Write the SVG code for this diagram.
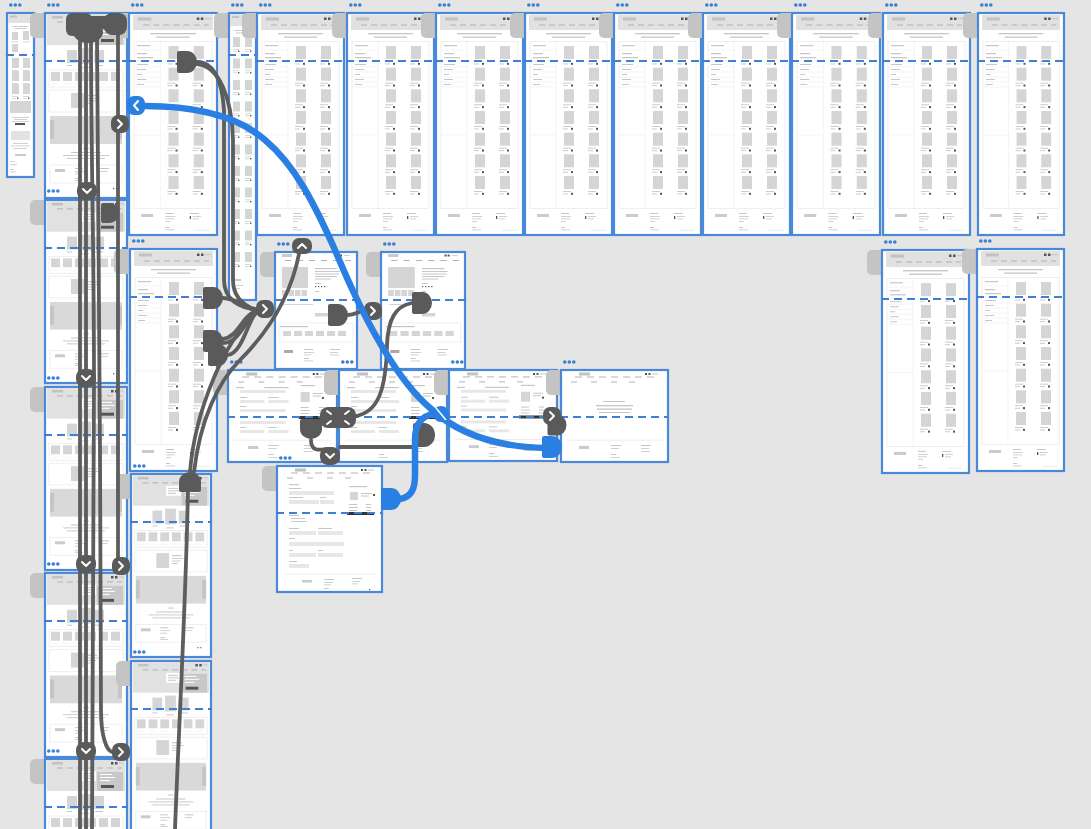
<svg xmlns="http://www.w3.org/2000/svg" xmlns:xlink="http://www.w3.org/1999/xlink" width="1091" height="829" viewBox="0 0 1091 829">
<style>
.bg{fill:#e5e5e5}
.pg{fill:#fff;stroke:#4a88d8;stroke-width:2.2}
.tab{fill:#c4c4c4}
.fold{stroke:#3f80d2;stroke-width:2;stroke-dasharray:8 5}
.hd{fill:#e1e1e1}
.lg{fill:#c2c2c2}
.ph{fill:#d5d5d5}
.ph2{fill:#cbcbcb}
.tx{fill:#c6c6c6}
.dk{fill:#555}
.in{fill:#e7e7e7}
.box{fill:none;stroke:#e8e8e8;stroke-width:.7}
.sep{fill:none;stroke:#ececec;stroke-width:.6}
.nav{fill:none;stroke:#b2b2b2;stroke-width:1}
.dot{fill:#3a7fd5}
.wire{fill:none;stroke:#5d5d5d;stroke-width:3.8;stroke-linecap:round}
.knob{fill:#5a5a5a}
.blue{fill:none;stroke:#2a7fe2;stroke-width:6.5;stroke-linecap:round}
.bk{fill:#2a7fe2}
.chev{fill:none;stroke:#fff;stroke-width:2;stroke-linecap:round;stroke-linejoin:round}
</style>
<defs>
<g id="dots" class="dot"><circle cx="1.8" cy="0" r="1.8"/><circle cx="6.3" cy="0" r="1.8"/><circle cx="10.8" cy="0" r="1.8"/></g>
<g id="cell"><rect class="ph" x="1" y="0" width="10" height="13"/><rect class="tx" x="0" y="15" width="8" height="0.9"/><rect class="tx" x="0" y="17.5" width="5" height="0.9"/><rect class="dk" x="8" y="16.8" width="2" height="2"/></g>
<g id="mcell"><rect class="ph" x="0" y="0" width="7" height="10"/><rect class="tx" x="0" y="12" width="6" height="0.7"/><rect class="tx" x="0" y="14" width="4" height="0.7"/><rect class="dk" x="5" y="13.5" width="1.4" height="1.4"/></g>
<g id="hdr">
<rect class="lg" x="18" y="2.5" width="11" height="3"/>
<rect class="dk" x="84" y="3" width="2" height="2"/><rect class="dk" x="87.5" y="3" width="2" height="2"/><rect class="tx" x="91" y="3.5" width="6" height="1"/>
<path class="nav" d="M14,7h7M26,7h7M38,7h7M50,7h7M62,7h7M74,7h7M86,7h7"/>
<path class="nav" d="M10,12h6M30,12h6M50,12h6M68,12h6"/>
</g>
<symbol id="catalog" viewBox="0 0 87 222" preserveAspectRatio="none">
<rect class="hd" x="4" y="2" width="79" height="15"/>
<rect class="lg" x="9" y="4.5" width="13" height="3"/>
<rect class="dk" x="67" y="4.5" width="2.5" height="2.5"/><rect class="dk" x="71" y="4.5" width="2.5" height="2.5"/><rect class="tx" x="75" y="5" width="6" height="1.2"/>
<path class="nav" d="M14,12h6M24,12h6M34,12h6M44,12h6M54,12h6M64,12h6M74,12h5"/>
<rect class="tx" x="21" y="20" width="45" height="1.3"/><rect class="tx" x="27" y="23.5" width="33" height="1.3"/>
<rect class="box" x="5" y="28.5" width="77" height="167"/>
<path class="sep" d="M31,28.5V195.5M5,37h26M5,48h26M5,54h26M5,59h26M5,64h26M5,69h26M5,74h26M5,122h26"/>
<rect class="tx" x="8" y="32" width="13" height="1.2"/><rect class="tx" x="8" y="40" width="10" height="1.2"/><rect class="tx" x="8" y="44" width="16" height="1.2"/>
<rect class="tx" x="8" y="51" width="11" height="1"/><rect class="tx" x="8" y="56" width="9" height="1"/><rect class="tx" x="8" y="61" width="5" height="1"/><rect class="tx" x="8" y="66" width="9" height="1"/><rect class="tx" x="8" y="71" width="7" height="1"/>
<use href="#cell" x="38" y="33"/><use href="#cell" x="63" y="33"/>
<use href="#cell" x="38" y="54.7"/><use href="#cell" x="63" y="54.7"/>
<use href="#cell" x="38" y="76.3"/><use href="#cell" x="63" y="76.3"/>
<use href="#cell" x="38" y="98"/><use href="#cell" x="63" y="98"/>
<use href="#cell" x="38" y="119.7"/><use href="#cell" x="63" y="119.7"/>
<use href="#cell" x="38" y="141.3"/><use href="#cell" x="63" y="141.3"/>
<use href="#cell" x="38" y="163"/><use href="#cell" x="63" y="163"/>
<rect class="ph2" x="12" y="201" width="12" height="3"/>
<rect class="tx" x="36" y="200" width="8" height="1"/><rect class="tx" x="36" y="203" width="10" height="0.8"/><rect class="tx" x="36" y="205.5" width="9" height="0.8"/><rect class="tx" x="36" y="208" width="5" height="0.8"/>
<rect class="tx" x="60" y="200" width="9" height="1"/><rect class="dk" x="60" y="203" width="1.3" height="3"/><rect class="tx" x="63" y="203" width="8" height="0.8"/><rect class="tx" x="63" y="205.5" width="6" height="0.8"/>
<rect class="tx" x="36" y="214" width="4" height="1"/><rect class="tx" x="36" y="216.5" width="9" height="0.8"/>
<rect class="sep" x="66" y="217" width="14" height="0.8"/>
</symbol>
<symbol id="home" viewBox="0 0 82 185" preserveAspectRatio="none">
<rect class="hd" x="2" y="1" width="78" height="31"/>
<rect class="lg" x="7" y="3" width="11" height="2.5"/>
<rect class="dk" x="66" y="3" width="2.5" height="2.5"/><rect class="dk" x="70" y="3" width="2.5" height="2.5"/><rect class="tx" x="74" y="3.5" width="5" height="1"/>
<path class="nav" d="M12,9h6M22,9h6M32,9h6M42,9h6M52,9h6M62,9h6M72,9h5"/>
<rect fill="#c8c8c8" x="52" y="13" width="26" height="19"/>
<rect fill="#fff" x="36" y="12" width="15" height="10"/>
<rect class="tx" x="38" y="14" width="10" height="1"/><rect class="tx" x="38" y="16.5" width="11" height="1"/><rect class="tx" x="38" y="19" width="8" height="1"/>
<rect fill="#fff" x="55" y="15" width="12" height="1"/><rect fill="#fff" x="55" y="18" width="15" height="1"/><rect fill="#fff" x="55" y="21" width="10" height="1"/>
<rect class="dk" x="56" y="26" width="13" height="3"/>
<rect class="ph" x="22" y="37" width="10" height="13"/><rect class="ph" x="35" y="35" width="11" height="16"/><rect class="ph" x="49" y="37" width="10" height="13"/>
<rect class="tx" x="22" y="52" width="5" height="1"/><rect class="tx" x="36" y="54" width="8" height="1"/><rect class="tx" x="50" y="52" width="8" height="1"/>
<rect class="box" x="4" y="57" width="74" height="17"/>
<rect class="ph" x="6" y="59" width="9" height="9"/><rect class="ph" x="18" y="59" width="9" height="9"/><rect class="ph" x="30" y="59" width="9" height="9"/><rect class="ph" x="42" y="59" width="9" height="9"/><rect class="ph" x="54" y="59" width="9" height="9"/><rect class="ph" x="66" y="59" width="9" height="9"/>
<path class="sep" d="M6,71h7M18,71h7M30,71h7M42,71h7M54,71h7M66,71h7" stroke="#c6c6c6"/>
<rect class="box" x="4" y="77" width="74" height="22"/>
<rect class="ph" x="26" y="80" width="13" height="15"/>
<rect class="tx" x="42" y="82" width="10" height="1.2"/><rect class="tx" x="42" y="85" width="12" height="0.9"/><rect class="tx" x="42" y="87.5" width="9" height="0.9"/><rect class="tx" x="42" y="90" width="6" height="0.9"/>
<rect fill="#d9d9d9" x="5" y="103" width="72" height="28"/>
<rect fill="#c5c5c5" x="5" y="107" width="4" height="19"/><rect fill="#c5c5c5" x="73" y="107" width="4" height="19"/>
<rect class="tx" x="38" y="135" width="6" height="1"/>
<rect class="tx" x="26" y="139" width="30" height="1"/><rect class="tx" x="18" y="142" width="46" height="0.9"/><rect class="tx" x="22" y="145" width="38" height="0.9"/>
<rect class="box" x="5" y="152" width="72" height="18"/>
<rect class="ph2" x="10" y="156" width="10" height="3"/>
<rect class="tx" x="30" y="155" width="8" height="1"/><rect class="tx" x="30" y="158" width="10" height="0.8"/><rect class="tx" x="30" y="160.5" width="7" height="0.8"/>
<rect class="tx" x="55" y="155" width="9" height="1"/><rect class="tx" x="55" y="158" width="8" height="0.8"/>
<rect class="tx" x="30" y="165" width="5" height="1"/><rect class="tx" x="30" y="167" width="8" height="0.8"/>
<rect class="dk" x="68" y="175" width="1.2" height="1.2"/><rect class="dk" x="71" y="175" width="1.2" height="1.2"/>
</symbol>
<symbol id="mobHome" viewBox="0 0 27 164" preserveAspectRatio="none">
<rect class="hd" x="1" y="1" width="25" height="9"/><rect class="lg" x="3" y="2.5" width="7" height="2"/>
<rect class="tx" x="6" y="13" width="15" height="0.9"/><rect class="tx" x="8" y="15" width="11" height="0.9"/>
<rect class="ph" x="5" y="19" width="6" height="8"/><rect class="ph" x="16" y="18" width="6" height="9"/><rect class="ph" x="5" y="31" width="6" height="8"/>
<rect class="tx" x="4" y="28.5" width="7" height="0.7"/><rect class="tx" x="16" y="28.5" width="7" height="0.7"/>
<use href="#mcell" x="5" y="45"/><use href="#mcell" x="16" y="45"/>
<use href="#mcell" x="5" y="58"/><use href="#mcell" x="16" y="58"/>
<use href="#mcell" x="5" y="71"/><use href="#mcell" x="16" y="71"/>
<rect class="ph" x="3" y="88" width="21" height="12"/>
<rect class="tx" x="5" y="104" width="17" height="0.8"/><rect class="tx" x="7" y="106" width="13" height="0.8"/><rect class="tx" x="5" y="108" width="17" height="0.8"/>
<rect class="dk" x="8" y="110" width="10" height="2"/>
<rect fill="#e2e2e2" x="4" y="118" width="19" height="9"/>
<rect class="tx" x="6" y="130" width="15" height="0.8"/><rect class="tx" x="4" y="132.5" width="19" height="0.8"/><rect class="tx" x="6" y="135" width="14" height="0.8"/>
<rect class="ph2" x="8" y="141" width="11" height="2"/>
<rect class="tx" x="3" y="148" width="5" height="0.8"/><rect class="tx" x="3" y="151" width="7" height="0.8"/><rect class="tx" x="3" y="156" width="4" height="0.8"/><rect class="tx" x="3" y="158.5" width="6" height="0.8"/>
</symbol>
<symbol id="mobCat" viewBox="0 0 27 287" preserveAspectRatio="none">
<rect class="hd" x="1" y="1" width="25" height="12"/><rect class="lg" x="3" y="3" width="7" height="2"/>
<rect class="tx" x="5" y="17" width="17" height="0.9"/><rect class="tx" x="7" y="19.5" width="13" height="0.9"/>
<use href="#mcell" x="4" y="24"/><use href="#mcell" x="16" y="24"/>
<use href="#mcell" x="4" y="45.5"/><use href="#mcell" x="16" y="45.5"/>
<use href="#mcell" x="4" y="67"/><use href="#mcell" x="16" y="67"/>
<use href="#mcell" x="4" y="88.5"/><use href="#mcell" x="16" y="88.5"/>
<use href="#mcell" x="4" y="110"/><use href="#mcell" x="16" y="110"/>
<use href="#mcell" x="4" y="131.5"/><use href="#mcell" x="16" y="131.5"/>
<use href="#mcell" x="4" y="153"/><use href="#mcell" x="16" y="153"/>
<use href="#mcell" x="4" y="174.5"/><use href="#mcell" x="16" y="174.5"/>
<use href="#mcell" x="4" y="196"/><use href="#mcell" x="16" y="196"/>
<use href="#mcell" x="4" y="217.5"/><use href="#mcell" x="16" y="217.5"/>
<use href="#mcell" x="4" y="239"/><use href="#mcell" x="16" y="239"/>
<rect class="ph2" x="4" y="266" width="8" height="2"/><rect class="tx" x="4" y="272" width="10" height="0.8"/><rect class="tx" x="4" y="275" width="7" height="0.8"/><rect class="tx" x="4" y="280" width="5" height="0.8"/>
</symbol>
<symbol id="product" viewBox="0 0 82 117" preserveAspectRatio="none">
<rect class="ph2" x="7" y="2" width="10" height="3"/>
<rect class="dk" x="62" y="2.5" width="2" height="2"/><rect class="dk" x="65" y="2.5" width="2" height="2"/><rect class="tx" x="69" y="3" width="6" height="0.8"/>
<path class="nav" d="M10,8.5h6M22,8.5h6M34,8.5h6M46,8.5h6M58,8.5h6M70,8.5h6"/>
<rect class="ph" x="7" y="15" width="26" height="21"/>
<rect class="ph" x="7" y="38" width="5.5" height="6"/><rect class="ph" x="13.5" y="38" width="5.5" height="6"/><rect class="ph" x="20" y="38" width="5.5" height="6"/><rect class="ph" x="26.5" y="38" width="5.5" height="6"/>
<rect class="tx" x="40" y="16" width="22" height="1.2"/><rect class="tx" x="40" y="19" width="25" height="1"/><rect class="tx" x="40" y="21.5" width="24" height="1"/><rect class="tx" x="40" y="24" width="22" height="1"/><rect class="tx" x="40" y="26.5" width="16" height="1"/>
<rect class="tx" x="40" y="31" width="6" height="1"/>
<rect class="dk" x="40" y="34" width="1.2" height="1.2"/><rect class="dk" x="43" y="34" width="1.2" height="1.2"/><rect class="dk" x="46" y="34" width="1.2" height="1.2"/><rect class="dk" x="49" y="34" width="1.2" height="1.2"/>
<rect class="tx" x="40" y="39" width="4" height="1"/>
<rect class="ph" x="8" y="52" width="30" height="1"/>
<rect class="ph" x="40" y="61" width="13" height="3.5"/>
<rect class="tx" x="5" y="74" width="28" height="1.2"/>
<rect class="box" x="4" y="71" width="74" height="19"/>
<rect class="ph" x="8" y="79" width="8" height="5"/><rect class="ph" x="19" y="79" width="8" height="5"/><rect class="ph" x="30" y="79" width="8" height="5"/><rect class="ph" x="41" y="79" width="8" height="5"/><rect class="ph" x="52" y="79" width="8" height="5"/><rect class="ph" x="63" y="79" width="8" height="5"/>
<rect fill="#b8a3a3" x="9" y="98" width="9" height="3"/>
<rect class="tx" x="29" y="97" width="9" height="1"/><rect class="tx" x="29" y="100" width="10" height="0.8"/><rect class="tx" x="29" y="102.5" width="7" height="0.8"/><rect class="tx" x="29" y="106" width="5" height="1"/><rect class="tx" x="29" y="108.5" width="9" height="0.8"/>
<rect class="tx" x="55" y="97" width="10" height="1"/><rect class="tx" x="55" y="100" width="8" height="0.8"/><rect class="tx" x="55" y="102.5" width="9" height="0.8"/>
</symbol>
<symbol id="checkout" viewBox="0 0 108 92" preserveAspectRatio="none">
<use href="#hdr"/>
<rect class="tx" x="8" y="17" width="8" height="1.2"/><rect class="tx" x="36" y="17" width="24" height="1.2"/>
<rect class="in" x="12" y="20" width="45" height="3"/>
<rect class="tx" x="12" y="27" width="7" height="1"/><rect class="tx" x="40" y="27" width="10" height="1"/>
<rect class="in" x="12" y="30" width="24" height="3"/><rect class="in" x="40" y="30" width="20" height="3"/>
<rect class="tx" x="12" y="36" width="6" height="1"/>
<rect class="in" x="12" y="39" width="45" height="3"/>
<rect class="in" x="12" y="51" width="45" height="3"/>
<rect class="tx" x="12" y="57" width="6" height="1"/><rect class="tx" x="40" y="57" width="8" height="1"/>
<rect class="in" x="12" y="60" width="24" height="3"/><rect class="in" x="40" y="60" width="20" height="3"/>
<rect class="sep" x="6" y="70" width="96" height="0.6"/>
<rect class="ph2" x="20" y="76" width="10" height="3"/>
<rect class="tx" x="40" y="75" width="10" height="1"/><rect class="tx" x="40" y="78" width="8" height="0.8"/><rect class="tx" x="40" y="84" width="5" height="1"/><rect class="tx" x="40" y="87" width="9" height="0.8"/>
<rect class="tx" x="75" y="75" width="10" height="1"/><rect class="tx" x="75" y="78" width="8" height="0.8"/><rect class="tx" x="75" y="81" width="9" height="0.8"/>
<rect class="tx" x="72" y="15" width="14" height="1.2"/>
<rect class="ph" x="72" y="22" width="9" height="10"/>
<rect class="tx" x="84" y="23" width="10" height="1"/><rect class="tx" x="84" y="25.5" width="8" height="1"/><rect class="dk" x="93" y="27" width="2" height="2"/>
<rect class="tx" x="72" y="37" width="8" height="1"/><rect class="tx" x="72" y="40" width="9" height="1"/><rect class="tx" x="72" y="43" width="8" height="1"/>
<rect class="tx" x="90" y="37" width="5" height="1"/><rect class="tx" x="90" y="40" width="5" height="1"/><rect class="tx" x="90" y="43" width="5" height="1"/>
<rect fill="#333" x="70" y="46" width="28" height="3"/>
</symbol>
<symbol id="confirm" viewBox="0 0 107 92" preserveAspectRatio="none">
<use href="#hdr"/>
<rect class="tx" x="42" y="31" width="22" height="1"/><rect class="tx" x="35" y="35" width="37" height="1.3"/><rect class="tx" x="36" y="38.5" width="35" height="1.3"/><rect class="tx" x="38" y="42" width="31" height="1"/>
<rect class="sep" x="6" y="70" width="95" height="0.6"/>
<rect class="ph2" x="18" y="76" width="10" height="3"/>
<rect class="tx" x="50" y="75" width="10" height="1"/><rect class="tx" x="50" y="78" width="8" height="0.8"/><rect class="tx" x="50" y="84" width="5" height="1"/><rect class="tx" x="50" y="87" width="9" height="0.8"/>
<rect class="tx" x="80" y="75" width="10" height="1"/><rect class="tx" x="80" y="78" width="8" height="0.8"/><rect class="tx" x="80" y="81" width="9" height="0.8"/>
</symbol>
<symbol id="form" viewBox="0 0 105 126" preserveAspectRatio="none">
<use href="#hdr"/>
<rect class="tx" x="12" y="18" width="10" height="1.2"/>
<rect class="tx" x="12" y="22" width="12" height="1"/>
<rect class="in" x="12" y="25" width="45" height="4"/>
<rect class="tx" x="12" y="31" width="14" height="1"/><rect class="tx" x="43" y="31" width="6" height="1"/>
<rect class="in" x="12" y="34" width="30" height="4"/><rect class="in" x="43" y="34" width="14" height="4"/>
<rect class="tx" x="12" y="49" width="10" height="1"/><rect class="tx" x="14" y="52" width="14" height="0.9"/><rect class="tx" x="14" y="55" width="16" height="0.9"/>
<rect class="tx" x="12" y="62" width="10" height="1"/><rect class="tx" x="41" y="62" width="14" height="1"/>
<rect class="in" x="12" y="65" width="27" height="4"/><rect class="in" x="41" y="65" width="25" height="4"/>
<rect class="tx" x="12" y="72" width="6" height="1"/>
<rect class="in" x="12" y="76" width="55" height="4"/>
<rect class="tx" x="12" y="84" width="4" height="1"/><rect class="tx" x="41" y="84" width="5" height="1"/>
<rect class="in" x="12" y="87" width="27" height="4"/><rect class="in" x="41" y="87" width="25" height="4"/>
<rect class="tx" x="12" y="95" width="8" height="1"/>
<rect class="in" x="12" y="98" width="20" height="4"/>
<rect class="sep" x="8" y="108" width="90" height="0.6"/>
<rect class="ph2" x="25" y="114" width="10" height="2.5"/>
<rect class="tx" x="47" y="113" width="10" height="1"/><rect class="tx" x="47" y="116" width="9" height="0.8"/><rect class="tx" x="47" y="118.5" width="7" height="0.8"/><rect class="tx" x="47" y="122" width="5" height="1"/>
<rect class="tx" x="75" y="112" width="10" height="1"/><rect class="tx" x="75" y="115" width="8" height="0.8"/><rect class="tx" x="75" y="117.5" width="6" height="0.8"/>
<rect class="dk" x="92" y="123" width="1.3" height="1.3"/>
<rect class="tx" x="72" y="20" width="18" height="1.2"/>
<rect class="ph" x="73" y="26" width="8" height="8"/>
<rect class="tx" x="84" y="27" width="11" height="1"/><rect class="tx" x="84" y="29.5" width="8" height="1"/><rect class="dk" x="96" y="28" width="2" height="2"/>
<rect class="tx" x="72" y="38" width="8" height="1"/><rect class="tx" x="72" y="41" width="9" height="1"/><rect class="tx" x="72" y="44" width="8" height="1"/>
<rect class="tx" x="89" y="38" width="5" height="1"/><rect class="tx" x="89" y="41" width="5" height="1"/><rect class="tx" x="89" y="44" width="5" height="1"/>
<rect fill="#333" x="70" y="46" width="27" height="3"/>
</symbol>
<g id="chR"><rect x="-9" y="-9" width="18" height="18" rx="7" class="knob"/><path class="chev" d="M-2,-4L2,0L-2,4"/></g>
<g id="chD"><rect x="-10" y="-9" width="20" height="18" rx="8" class="knob"/><path class="chev" d="M-4,-2L0,2L4,-2"/></g>
<g id="chU"><rect x="-10" y="-8" width="20" height="16" rx="7" class="knob"/><path class="chev" d="M-4,2L0,-2L4,2"/></g>
<path id="plug" d="M-10,-9Q-10,-11 -8,-11H0A10,11 0 0 1 0,11H-8Q-10,11 -10,9Z"/>
</defs>

<rect class="bg" x="0" y="0" width="1091" height="829"/>

<g id="f1"><rect class="pg" x="7" y="13" width="27" height="164"/><use href="#mobHome" x="7" y="13" width="27" height="164"/><line class="fold" x1="6" y1="55" x2="35" y2="55"/><use href="#dots" x="9" y="5"/></g>
<g id="fB1"><rect class="tab" x="30" y="13" width="22" height="25" rx="5"/><rect class="pg" x="45" y="13" width="82" height="185"/><use href="#home" x="45" y="13" width="82" height="185"/><line class="fold" x1="44" y1="61" x2="128" y2="61"/><use href="#dots" x="47" y="5"/></g>
<g id="fB2"><rect class="tab" x="30" y="200" width="22" height="25" rx="5"/><rect class="pg" x="45" y="200" width="82" height="183"/><use href="#home" x="45" y="200" width="82" height="183"/><line class="fold" x1="44" y1="248" x2="128" y2="248"/><use href="#dots" x="47" y="191"/></g>
<g id="fB3"><rect class="tab" x="30" y="387" width="22" height="25" rx="5"/><rect class="pg" x="45" y="387" width="82" height="183"/><use href="#home" x="45" y="387" width="82" height="183"/><line class="fold" x1="44" y1="435" x2="128" y2="435"/><use href="#dots" x="47" y="378"/></g>
<g id="fB4"><rect class="tab" x="30" y="573" width="22" height="25" rx="5"/><rect class="pg" x="45" y="573" width="82" height="184"/><use href="#home" x="45" y="573" width="82" height="184"/><line class="fold" x1="44" y1="621" x2="128" y2="621"/><use href="#dots" x="47" y="564"/></g>
<g id="fB5"><rect class="tab" x="30" y="759" width="22" height="25" rx="5"/><rect class="pg" x="45" y="759" width="82" height="185"/><use href="#home" x="45" y="759" width="82" height="185"/><line class="fold" x1="44" y1="807" x2="128" y2="807"/><use href="#dots" x="47" y="751"/></g>
<g id="fC1"><rect class="tab" x="114" y="13" width="22" height="25" rx="5"/><rect class="pg" x="129" y="13" width="88" height="222"/><use href="#catalog" x="129" y="13" width="88" height="222"/><line class="fold" x1="128" y1="61" x2="218" y2="61"/><use href="#dots" x="131" y="5"/></g>
<g id="fC2"><rect class="tab" x="114" y="249" width="22" height="25" rx="5"/><rect class="pg" x="130" y="249" width="87" height="222"/><use href="#catalog" x="130" y="249" width="87" height="222"/><line class="fold" x1="129" y1="297" x2="218" y2="297"/><use href="#dots" x="132" y="241"/></g>
<g id="fC3"><rect class="tab" x="116" y="474" width="22" height="25" rx="5"/><rect class="pg" x="131" y="474" width="80" height="183"/><use href="#home" x="131" y="474" width="80" height="183"/><line class="fold" x1="130" y1="522" x2="212" y2="522"/><use href="#dots" x="133" y="466"/></g>
<g id="fC4"><rect class="tab" x="116" y="661" width="22" height="25" rx="5"/><rect class="pg" x="131" y="661" width="80" height="183"/><use href="#home" x="131" y="661" width="80" height="183"/><line class="fold" x1="130" y1="709" x2="212" y2="709"/><use href="#dots" x="133" y="652"/></g>
<g id="f4"><rect class="tab" x="214" y="13" width="22" height="25" rx="5"/><rect class="pg" x="229" y="13" width="27" height="287"/><use href="#mobCat" x="229" y="13" width="27" height="287"/><line class="fold" x1="228" y1="55" x2="257" y2="55"/><use href="#dots" x="231" y="5"/></g>
<g id="f5"><rect class="tab" x="242" y="13" width="22" height="25" rx="5"/><rect class="pg" x="257" y="13" width="87" height="222"/><use href="#catalog" x="257" y="13" width="87" height="222"/><line class="fold" x1="256" y1="61" x2="346" y2="61"/><use href="#dots" x="259" y="5"/></g>
<g id="f6"><rect class="tab" x="332" y="13" width="22" height="25" rx="5"/><rect class="pg" x="347" y="13" width="87" height="222"/><use href="#catalog" x="347" y="13" width="87" height="222"/><line class="fold" x1="346" y1="61" x2="435" y2="61"/><use href="#dots" x="349" y="5"/></g>
<g id="f7"><rect class="tab" x="421" y="13" width="22" height="25" rx="5"/><rect class="pg" x="436" y="13" width="87" height="222"/><use href="#catalog" x="436" y="13" width="87" height="222"/><line class="fold" x1="435" y1="61" x2="524" y2="61"/><use href="#dots" x="438" y="5"/></g>
<g id="f8"><rect class="tab" x="510" y="13" width="22" height="25" rx="5"/><rect class="pg" x="525" y="13" width="87" height="222"/><use href="#catalog" x="525" y="13" width="87" height="222"/><line class="fold" x1="524" y1="61" x2="613" y2="61"/><use href="#dots" x="527" y="5"/></g>
<g id="f9"><rect class="tab" x="599" y="13" width="22" height="25" rx="5"/><rect class="pg" x="614" y="13" width="87" height="222"/><use href="#catalog" x="614" y="13" width="87" height="222"/><line class="fold" x1="613" y1="61" x2="702" y2="61"/><use href="#dots" x="616" y="5"/></g>
<g id="f10"><rect class="tab" x="688" y="13" width="22" height="25" rx="5"/><rect class="pg" x="703" y="13" width="87" height="222"/><use href="#catalog" x="703" y="13" width="87" height="222"/><line class="fold" x1="702" y1="61" x2="791" y2="61"/><use href="#dots" x="705" y="5"/></g>
<g id="f11"><rect class="tab" x="777" y="13" width="22" height="25" rx="5"/><rect class="pg" x="792" y="13" width="88" height="222"/><use href="#catalog" x="792" y="13" width="88" height="222"/><line class="fold" x1="791" y1="61" x2="881" y2="61"/><use href="#dots" x="794" y="5"/></g>
<g id="f12"><rect class="tab" x="868" y="13" width="22" height="25" rx="5"/><rect class="pg" x="883" y="13" width="87" height="222"/><use href="#catalog" x="883" y="13" width="87" height="222"/><line class="fold" x1="882" y1="61" x2="971" y2="61"/><use href="#dots" x="885" y="5"/></g>
<g id="f13"><rect class="tab" x="963" y="13" width="22" height="25" rx="5"/><rect class="pg" x="978" y="13" width="86" height="222"/><use href="#catalog" x="978" y="13" width="86" height="222"/><line class="fold" x1="977" y1="61" x2="1065" y2="61"/><use href="#dots" x="980" y="5"/></g>
<g id="f14"><rect class="tab" x="867" y="250" width="22" height="25" rx="5"/><rect class="pg" x="882" y="250" width="87" height="223"/><use href="#catalog" x="882" y="250" width="87" height="223"/><line class="fold" x1="881" y1="299" x2="970" y2="299"/><use href="#dots" x="884" y="242"/></g>
<g id="f15"><rect class="tab" x="962" y="249" width="22" height="25" rx="5"/><rect class="pg" x="977" y="249" width="87" height="222"/><use href="#catalog" x="977" y="249" width="87" height="222"/><line class="fold" x1="976" y1="297" x2="1065" y2="297"/><use href="#dots" x="979" y="241"/></g>
<g id="m1"><rect class="tab" x="260" y="252" width="22" height="25" rx="5"/><rect class="pg" x="275" y="252" width="82" height="117"/><use href="#product" x="275" y="252" width="82" height="117"/><line class="fold" x1="274" y1="300" x2="358" y2="300"/><use href="#dots" x="277" y="244"/></g>
<g id="m2"><rect class="tab" x="366" y="252" width="22" height="25" rx="5"/><rect class="pg" x="381" y="252" width="84" height="117"/><use href="#product" x="381" y="252" width="84" height="117"/><line class="fold" x1="380" y1="300" x2="466" y2="300"/><use href="#dots" x="383" y="244"/></g>
<g id="m3"><rect class="tab" x="213" y="370" width="22" height="25" rx="5"/><rect class="pg" x="228" y="370" width="109" height="92"/><use href="#checkout" x="228" y="370" width="109" height="92"/><line class="fold" x1="227" y1="417" x2="338" y2="417"/><use href="#dots" x="230" y="362"/></g>
<g id="m4"><rect class="tab" x="324" y="370" width="22" height="25" rx="5"/><rect class="pg" x="339" y="370" width="108" height="92"/><use href="#checkout" x="339" y="370" width="108" height="92"/><line class="fold" x1="338" y1="417" x2="448" y2="417"/><use href="#dots" x="341" y="362"/></g>
<g id="m5"><rect class="tab" x="434" y="370" width="22" height="25" rx="5"/><rect class="pg" x="449" y="370" width="108" height="91"/><use href="#checkout" x="449" y="370" width="108" height="91"/><line class="fold" x1="448" y1="417" x2="558" y2="417"/><use href="#dots" x="451" y="362"/></g>
<g id="m6"><rect class="tab" x="546" y="370" width="22" height="25" rx="5"/><rect class="pg" x="561" y="370" width="107" height="92"/><use href="#confirm" x="561" y="370" width="107" height="92"/><line class="fold" x1="560" y1="417" x2="669" y2="417"/><use href="#dots" x="563" y="362"/></g>
<g id="m7"><rect class="tab" x="262" y="466" width="22" height="25" rx="5"/><rect class="pg" x="277" y="466" width="105" height="126"/><use href="#form" x="277" y="466" width="105" height="126"/><line class="fold" x1="276" y1="513" x2="383" y2="513"/><use href="#dots" x="279" y="458"/></g>

<g id="connectors">
<g class="wire">
<path d="M80,38V829"/>
<path d="M86,40V829"/>
<path d="M91,40C91,150 94,250 94,380C94,480 92,600 92,829"/>
<path d="M97,40C97,200 100,300 100,450C100,600 101,680 101,710C101,735 106,750 112,752"/>
<path d="M118,30V558"/>
<path d="M197,62C214,62 222,80 224,110V280C224,300 240,308 256,309"/>
<path d="M197,64C220,66 232,100 233,140V280C233,298 245,306 256,310"/>
<path d="M223,298C238,298 244,309 256,310"/>
<path d="M223,339C238,337 242,316 256,311"/>
<path d="M223,343C240,343 246,318 256,312"/>
<path d="M228,355C243,352 248,320 256,313"/>
<path d="M299,254C290,300 265,335 240,360C218,382 200,420 194,472"/>
<path d="M190,472C195,410 225,340 256,313"/>
<path d="M188,488C186,600 180,700 175,829"/>
<path d="M348,315C356,315 358,311 364,311"/>
<path d="M412,303C395,306 388,320 387,345C386,390 378,412 356,416"/>
<path d="M311,440C311,452 320,450 326,449"/>
<path d="M340,447H414"/>
</g>
<g class="knob">
<rect x="66" y="13" width="26" height="23" rx="6"/>
<rect x="104" y="13" width="23" height="22" rx="8"/>
<rect x="85" y="16" width="25" height="13"/>
<ellipse cx="88" cy="32" rx="15" ry="11"/>
<use href="#plug" transform="translate(187,62)"/>
<use href="#plug" transform="translate(110,213) scale(0.9)"/>
<use href="#plug" transform="translate(213,298)"/>
<use href="#plug" transform="translate(213,341)"/>
<use href="#plug" transform="translate(218,355)"/>
<use href="#plug" transform="translate(338,315)"/>
<use href="#plug" transform="translate(422,303)"/>
<use href="#plug" transform="translate(424,435) scale(1.1)"/>
<use href="#plug" transform="translate(311,429) rotate(90)"/>
<use href="#plug" transform="translate(190,482) rotate(-90)"/>
<use href="#plug" transform="translate(557,425) scale(0.95)"/>
</g>
<use href="#chD" x="87" y="191"/>
<use href="#chD" x="86" y="378"/>
<use href="#chD" x="86" y="564"/>
<use href="#chD" x="86" y="751"/>
<use href="#chR" x="120" y="124"/>
<use href="#chR" x="121" y="566"/>
<use href="#chR" x="121" y="752"/>
<use href="#chR" x="265" y="309"/>
<use href="#chR" x="373" y="311"/>
<use href="#chR" x="552" y="416"/>
<use href="#chU" x="302" y="246"/>
<use href="#chD" x="330" y="456"/>
<g id="collapse"><rect x="320" y="407" width="36" height="21" rx="8" class="knob"/><path class="chev" d="M327,411L331,414M327,424L331,421M349,411L345,414M349,424L345,421"/></g>
<g id="blue-link">
<path class="blue" d="M145,106C200,106 240,118 265,140C295,165 315,205 335,250C362,315 395,378 430,408C460,436 500,447 545,448"/>
<path class="blue" d="M400,499C412,497 415,488 415,475V440C415,420 425,413 442,413"/>
<circle class="bk" cx="441" cy="414" r="8"/>
<path d="M436,408L446,420" stroke="#fff" stroke-width="1.5"/>
<use href="#plug" class="bk" transform="translate(552,447)"/>
<use href="#plug" class="bk" transform="translate(391,499)"/>
<rect class="bk" x="127" y="96" width="18" height="19" rx="7"/>
<path class="chev" d="M138,101L134,105.5L138,110"/>
</g>
</g>
</svg>
